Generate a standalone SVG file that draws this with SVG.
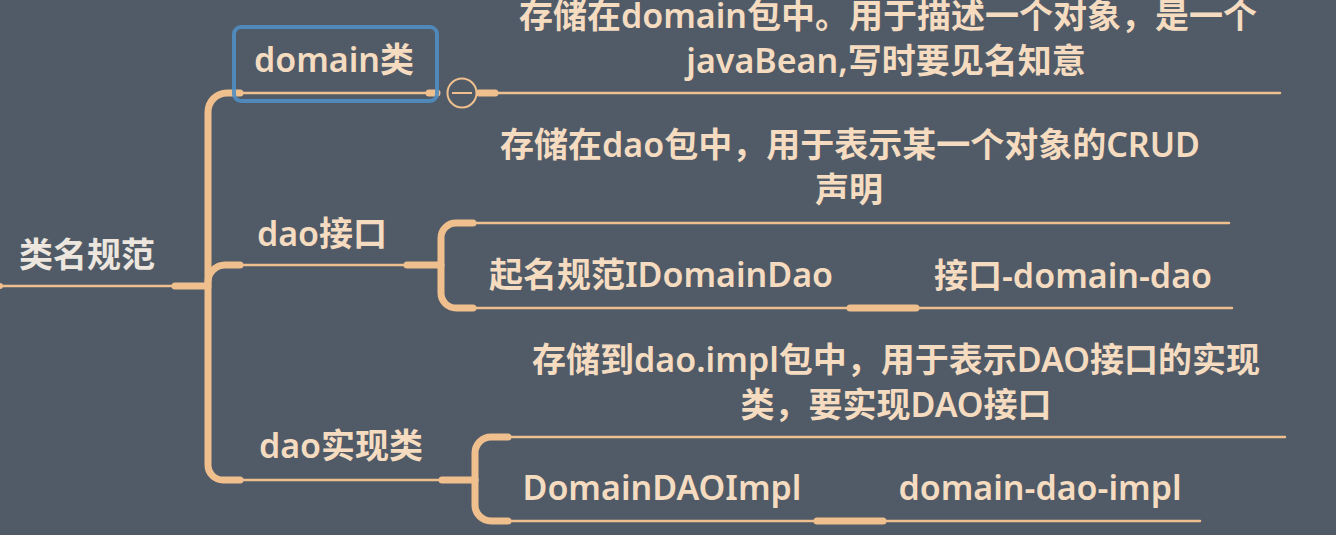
<svg xmlns="http://www.w3.org/2000/svg" width="1336" height="535" viewBox="0 0 1336 535">
<style>
.t{font-family:"Noto Sans","Noto Sans CJK SC",sans-serif;font-size:34px;font-weight:600;fill:#f5dcc1;text-anchor:middle}
.root{fill:#ece6df}
.thin{fill:none;stroke:#f0bf8e;stroke-width:2.5;stroke-linecap:round}
.thick{fill:none;stroke:#f0bf8e;stroke-width:7;stroke-linecap:round}
</style>
<rect width="1336" height="535" fill="#505b67"/>
<g id="connectors">
  <circle cx="0" cy="286" r="3" fill="#f0bf8e"/>
  <path class="thin" d="M0 286H205"/>
  <path class="thick" d="M175 286H205"/>
  <path class="thick" d="M208 286V112A19 19 0 0 1 227 93H240"/>
  <path class="thick" d="M208 286V465A15 15 0 0 0 223 480H240"/>
  <path class="thick" d="M208 282A17 17 0 0 1 225 265H240"/>
  <path class="thin" d="M240 93H432"/>
  <path class="thick" d="M429 93H437"/>
  <path class="thin" d="M240 265H405"/>
  <path class="thick" d="M407 265H440"/>
  <path class="thin" d="M240 480H440"/>
  <path class="thick" d="M442 480H475"/>
  <path class="thick" d="M441 265V238A15 15 0 0 1 456 223H473"/>
  <path class="thick" d="M441 265V293A15 15 0 0 0 456 308H473"/>
  <path class="thin" d="M473 223H1229"/>
  <path class="thin" d="M473 308H1232"/>
  <path class="thick" d="M850 308H916"/>
  <path class="thick" d="M475 480V453A16 16 0 0 1 491 437H508"/>
  <path class="thick" d="M475 480V505A16 16 0 0 0 491 521H508"/>
  <path class="thin" d="M508 437H1285"/>
  <path class="thin" d="M508 521H1200"/>
  <path class="thick" d="M817 521H883"/>
  <path class="thick" d="M479 93H495"/>
  <path class="thin" d="M495 93H1280"/>
</g>
<g id="root"><text class="t root" x="87" y="267">类名规范</text></g>
<g id="domain-class">
  <rect x="234" y="27" width="203" height="74" rx="7" fill="none" stroke="#4f8dc2" stroke-width="4" stroke-opacity="0.9"/>
  <text class="t" x="334" y="72">domain类</text>
</g>
<g id="collapse">
  <circle cx="462" cy="93" r="14.5" fill="#505b67" stroke="#f0bf8e" stroke-width="2"/>
  <path d="M452 93H472" stroke="#f0bf8e" stroke-width="2"/>
</g>
<g id="domain-desc">
  <text class="t" x="888" y="28">存储在domain包中。用于描述一个对象，是一个</text>
  <text class="t" x="886" y="73">javaBean,写时要见名知意</text>
</g>
<g id="dao-interface"><text class="t" x="322" y="246">dao接口</text></g>
<g id="dao-desc">
  <text class="t" x="850" y="157">存储在dao包中，用于表示某一个对象的CRUD</text>
  <text class="t" x="849" y="202">声明</text>
</g>
<g id="idomaindao"><text class="t" x="661" y="287">起名规范IDomainDao</text></g>
<g id="interface-domain-dao"><text class="t" x="1073" y="288">接口-domain-dao</text></g>
<g id="dao-impl"><text class="t" x="341" y="458">dao实现类</text></g>
<g id="impl-desc">
  <text class="t" x="896" y="372">存储到dao.impl包中，用于表示DAO接口的实现</text>
  <text class="t" x="896" y="417">类，要实现DAO接口</text>
</g>
<g id="domaindaoimpl"><text class="t" x="662" y="500">DomainDAOImpl</text></g>
<g id="domain-dao-impl"><text class="t" x="1040" y="500">domain-dao-impl</text></g>
</svg>
